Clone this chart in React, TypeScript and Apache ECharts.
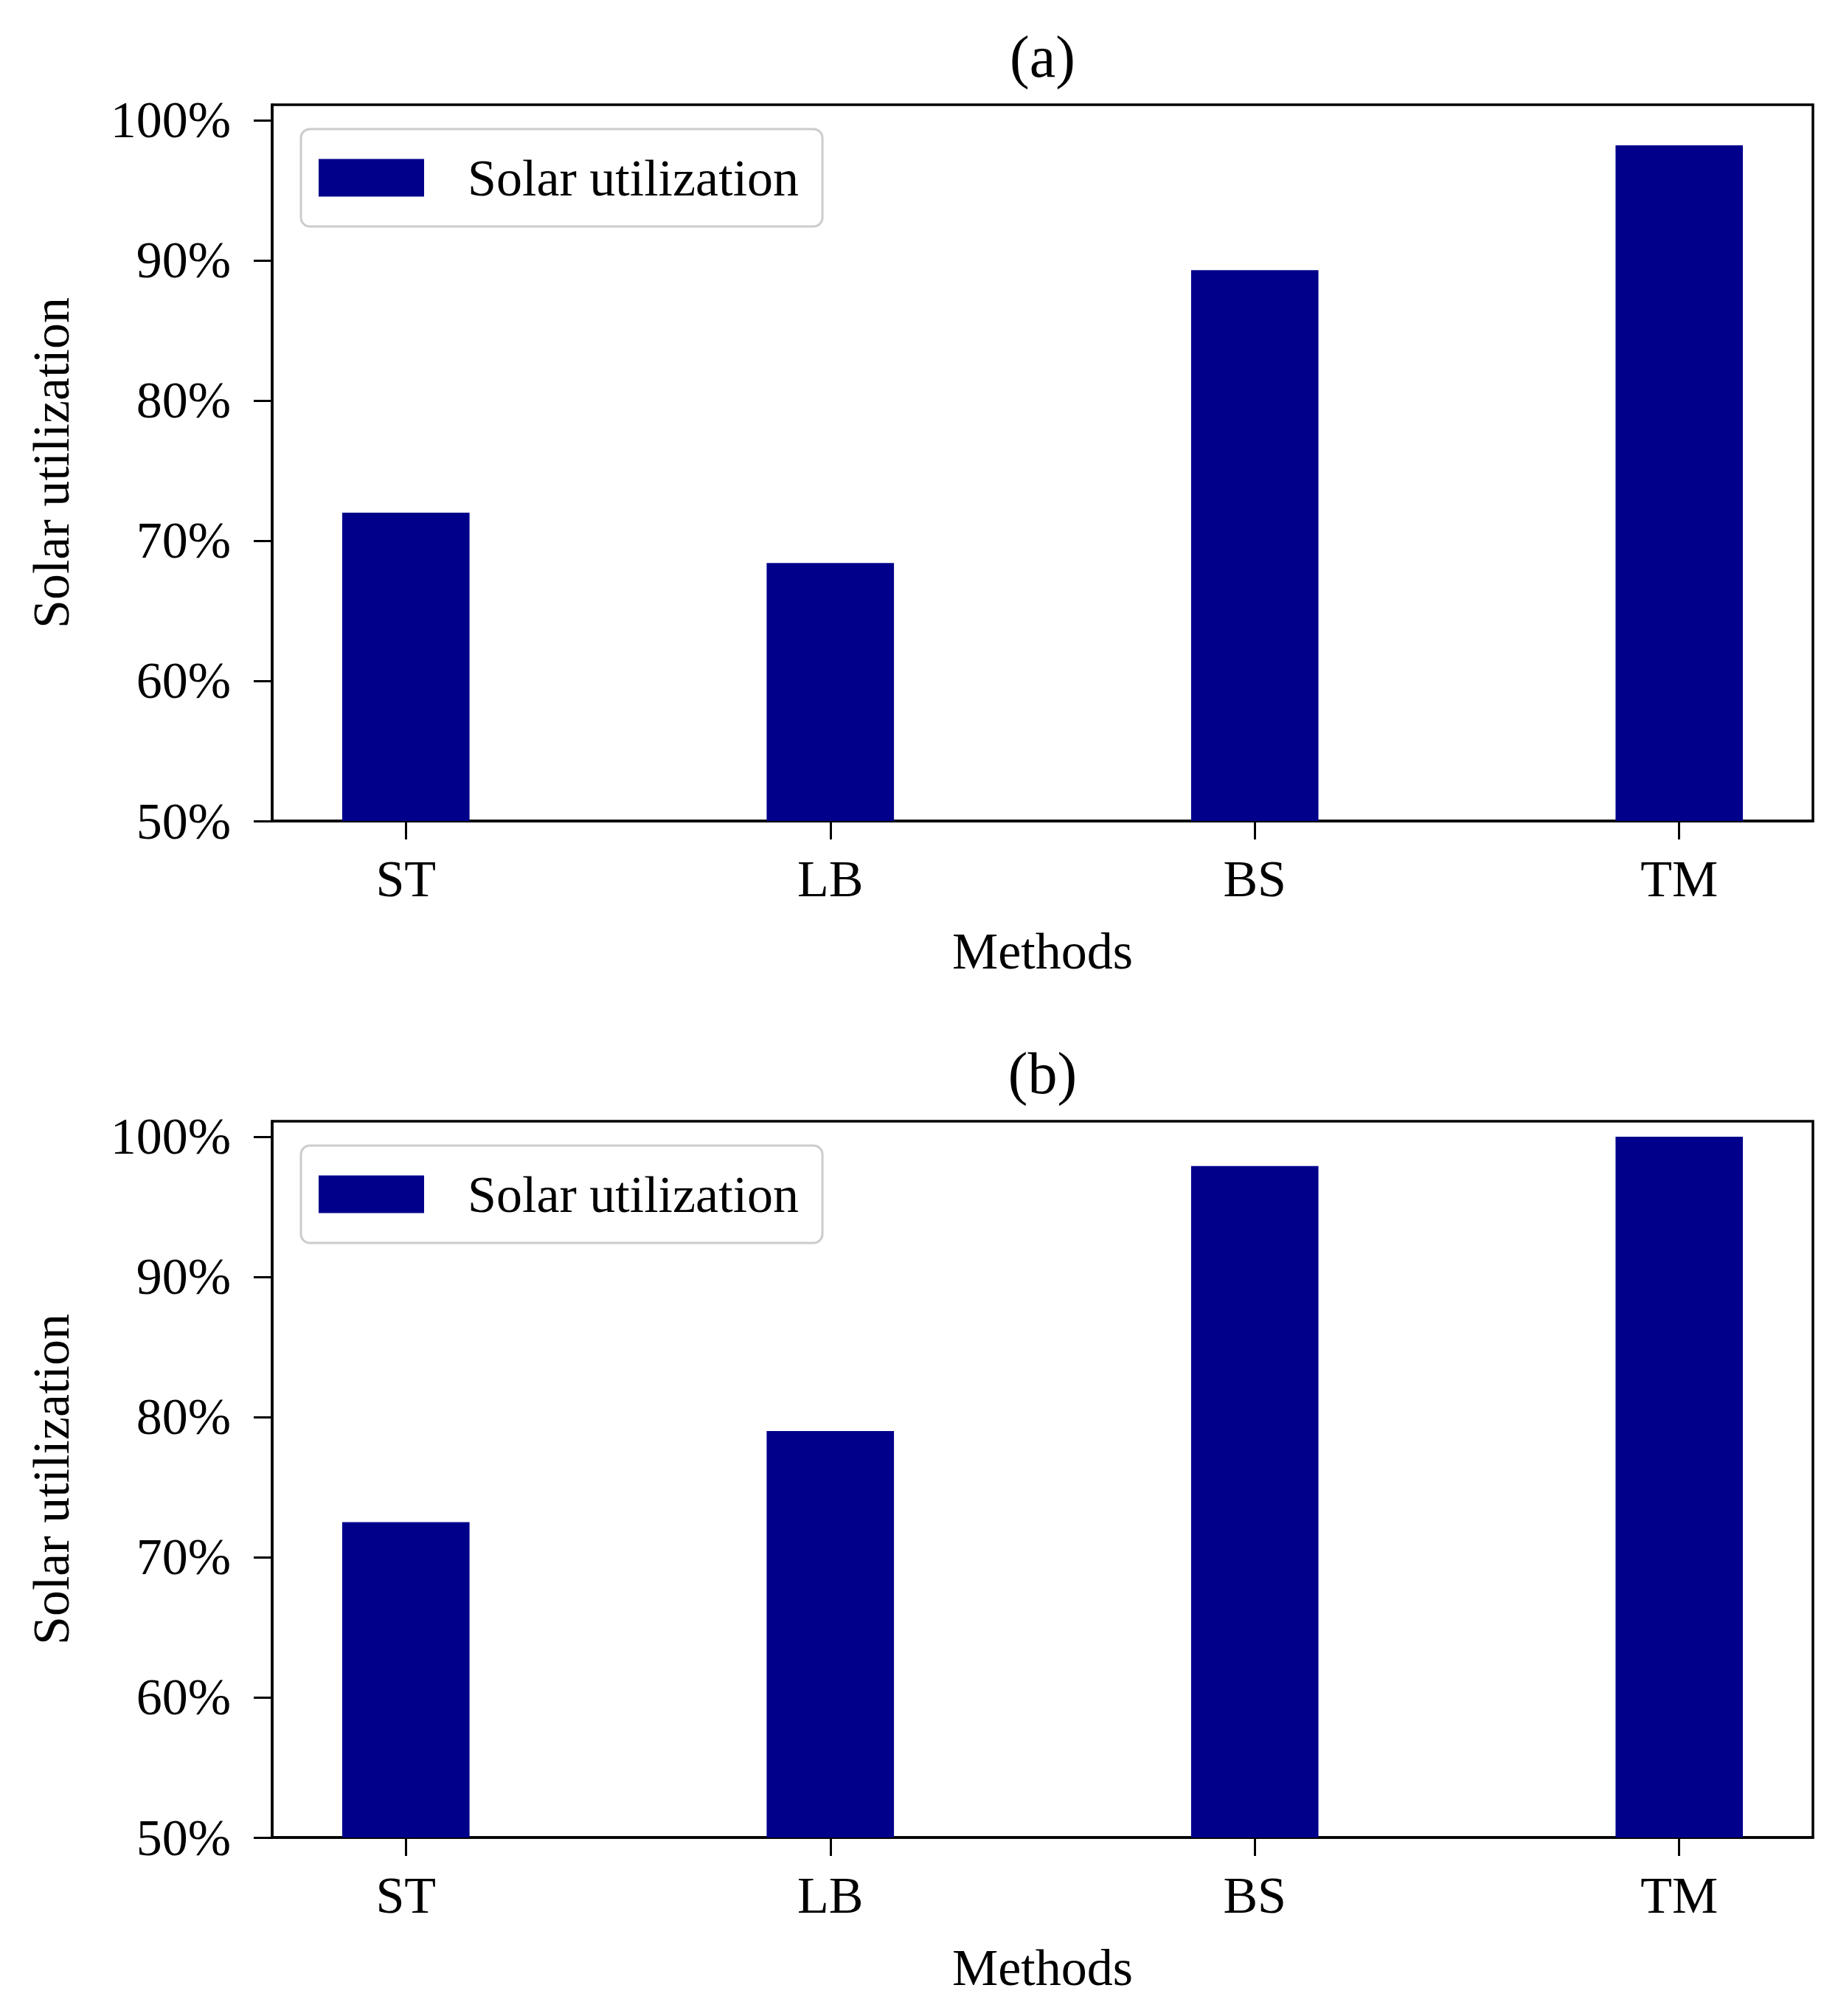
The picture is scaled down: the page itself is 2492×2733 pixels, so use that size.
import React, { useEffect, useRef } from "react";
import * as echarts from "echarts";

// ---- data ----
const categories = ["ST", "LB", "BS", "TM"];
const categoryPositions = [0, 1, 2, 3];
const valuesA = [72.0, 68.4, 89.3, 98.2];
const valuesB = [72.5, 79.0, 97.9, 100.0];
const yTicks = [50, 60, 70, 80, 90, 100];
const panelTitles = ["(a)", "(b)"];
const seriesName = "Solar utilization";
const xAxisName = "Methods";
const yAxisName = "Solar utilization";

// ---- layout / style ----
const W = 2492;
const H = 2733;
const FONT = "'Liberation Serif', 'Times New Roman', serif";
const FS = 70;
const BAR_COLOR = "#00008B";
const GRID_LEFT = 369;
const GRID_WIDTH = 2089;
const GRID_HEIGHT = 971;
const GRID_TOPS = [142, 1520];
const X_MIN = -0.315;
const X_MAX = 3.315;
const BAR_W = (0.3 * GRID_WIDTH) / (X_MAX - X_MIN);

export default function App() {
  const ref = useRef<HTMLDivElement>(null);

  useEffect(() => {
    document.body.style.margin = "0";
    if (!ref.current) return;
    const chart = echarts.init(ref.current, undefined, { renderer: "svg" });
    const panels = [valuesA, valuesB];

    const option: any = {
      animation: false,
      backgroundColor: "#ffffff",
      textStyle: { fontFamily: FONT, color: "#000" },
      title: panels.map((_, i) => ({
        text: panelTitles[i],
        left: GRID_LEFT + GRID_WIDTH / 2,
        top: GRID_TOPS[i] - 105,
        textAlign: "center",
        padding: 0,
        textStyle: { fontFamily: FONT, fontSize: 80, fontWeight: "normal", color: "#000" },
      })),
      legend: panels.map((_, i) => ({
        data: [seriesName],
        left: GRID_LEFT + 39,
        top: GRID_TOPS[i] + 33,
        icon: "rect",
        itemWidth: 143,
        itemHeight: 51,
        padding: [31, 32, 31, 24],
        backgroundColor: "#ffffff",
        borderColor: "#cccccc",
        borderWidth: 3,
        borderRadius: 12,
        selectedMode: false,
        textStyle: {
          fontFamily: FONT,
          fontSize: FS,
          color: "#000",
          lineHeight: 70,
          padding: [0, 0, 0, 54],
        },
      })),
      grid: panels.map((_, i) => ({
        left: GRID_LEFT,
        top: GRID_TOPS[i],
        width: GRID_WIDTH,
        height: GRID_HEIGHT,
        show: true,
        borderColor: "#000",
        borderWidth: 3.5,
        backgroundColor: "transparent",
        containLabel: false,
      })),
      xAxis: panels.map((_, i) => ({
        type: "value",
        gridIndex: i,
        min: X_MIN,
        max: X_MAX,
        name: xAxisName,
        nameLocation: "middle",
        nameGap: 141,
        nameTextStyle: { fontFamily: FONT, fontSize: FS, color: "#000" },
        axisLine: { show: true, onZero: false, lineStyle: { color: "#000", width: 3.5 } },
        axisTick: {
          show: true,
          length: 25,
          inside: false,
          customValues: categoryPositions,
          lineStyle: { color: "#000", width: 3 },
        },
        axisLabel: {
          show: true,
          margin: 43,
          customValues: categoryPositions,
          formatter: (v: number) => categories[Math.round(v)] ?? "",
          fontFamily: FONT,
          fontSize: FS,
          color: "#000",
        },
        splitLine: { show: false },
      })),
      yAxis: panels.map((_, i) => ({
        type: "value",
        gridIndex: i,
        min: yTicks[0],
        max: 101.1,
        interval: 10,
        name: yAxisName,
        nameLocation: "middle",
        nameGap: 265,
        nameRotate: 90,
        nameTextStyle: { fontFamily: FONT, fontSize: FS, color: "#000" },
        axisLine: { show: true, onZero: false, lineStyle: { color: "#000", width: 3.5 } },
        axisTick: {
          show: true,
          length: 25,
          inside: false,
          customValues: yTicks,
          lineStyle: { color: "#000", width: 3 },
        },
        axisLabel: {
          show: true,
          margin: 56,
          customValues: yTicks,
          formatter: (v: number) => `${v}%`,
          fontFamily: FONT,
          fontSize: FS,
          color: "#000",
        },
        splitLine: { show: false },
      })),
      series: panels.map((vals, i) => ({
        type: "bar",
        name: seriesName,
        xAxisIndex: i,
        yAxisIndex: i,
        barWidth: BAR_W,
        itemStyle: { color: BAR_COLOR },
        data: vals.map((v, k) => [categoryPositions[k], v]),
      })),
    };

    chart.setOption(option);
    return () => chart.dispose();
  }, []);

  return <div ref={ref} style={{ width: W, height: H }} />;
}
